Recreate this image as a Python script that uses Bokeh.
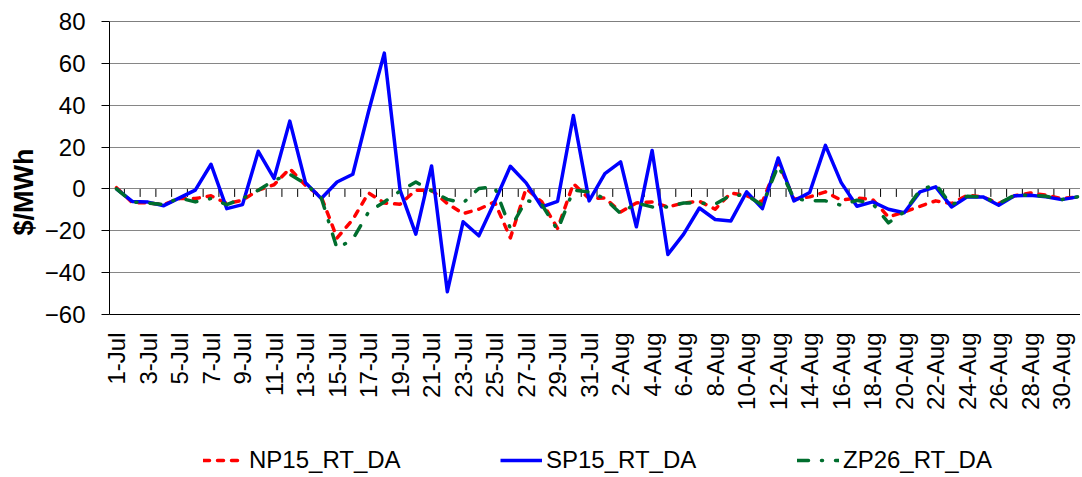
import numpy as np
from bokeh.plotting import figure
from bokeh.layouts import column
from bokeh.models import FixedTicker, Span, Title, Legend, LegendItem, Range1d, ColumnDataSource
from bokeh.embed import file_html
from bokeh.resources import INLINE

# ---- data ----
dates = [f"{d}-Jul" for d in range(1, 32)] + [f"{d}-Aug" for d in range(1, 32)]

np15 = [0.6, -6.5, -6.7, -7.5, -4.6, -4.6, -3.3, -7.0, -5.4, -0.6,
        2.0, 9.7, 1.7, -3.8, -23.4, -14.6, -1.9, -6.7, -7.3, -0.6,
        -0.6, -7.0, -11.8, -9.7, -6.2, -23.4, 0.2, -6.2, -18.9, 2.5, -4.6,
        -4.3, -11.0, -6.7, -6.2, -8.6, -6.7, -5.9, -9.7, -1.9, -3.3,
        -6.2, 12.9, -4.9, -3.8, -1.4, -5.4, -4.3, -5.1, -13.4, -11.0,
        -8.3, -5.7, -7.0, -3.0, -3.8, -7.0, -3.3, -1.9, -3.0, -4.6, -3.8]

sp15 = [0.0, -6.0, -6.3, -8.0, -4.3, -0.6, 11.8, -9.4, -7.5, 18.0,
        5.0, 32.4, 2.9, -4.6, 3.3, 7.0, 37.0, 64.9, -0.6, -21.6,
        11.0, -49.1, -15.7, -22.4, -6.2, 10.8, 2.9, -8.6, -5.9, 35.1, -5.7,
        7.3, 12.9, -18.1, 18.4, -31.3, -21.6, -9.1, -14.6, -15.3, -1.4,
        -9.4, 14.8, -5.7, -1.7, 20.8, 3.0, -8.3, -6.2, -9.7, -11.4,
        -1.4, 1.0, -8.6, -3.8, -3.8, -7.8, -3.3, -3.0, -3.8, -5.1, -3.8]

zp26 = [0.0, -6.2, -6.7, -7.5, -4.3, -6.2, -4.6, -7.5, -4.6, -0.6,
        4.1, 7.0, 2.5, -4.3, -28.5, -24.0, -11.0, -6.2, -1.0, 3.3,
        -1.0, -5.0, -6.7, 0.2, 1.0, -18.9, -5.4, -7.5, -19.7, -0.6, -1.4,
        -4.6, -11.8, -6.7, -8.6, -8.6, -6.7, -6.7, -7.3, -3.0, -3.0,
        -7.8, 11.3, -4.6, -5.7, -5.7, -7.8, -5.4, -7.0, -16.2, -11.0,
        -0.6, 2.2, -7.8, -3.5, -3.8, -7.0, -3.0, -3.0, -3.5, -5.1, -3.8]

series_names = ["NP15_RT_DA", "SP15_RT_DA", "ZP26_RT_DA"]
series_cols = ["np15", "sp15", "zp26"]
y_ticks = [-60, -40, -20, 0, 20, 40, 60, 80]

YMIN, YMAX = -60, 80
FONT = "Liberation Sans"
STYLES = [dict(line_color="#FF0000", line_width=3.5, line_dash="6 8", line_cap="round", line_join="round"),
          dict(line_color="#0000FF", line_width=3.5, line_join="round"),
          dict(line_color="#006E2E", line_width=3.5, line_dash="11 13 1 13", line_cap="round", line_join="round")]

x = list(range(len(dates)))
src = ColumnDataSource(dict(x=x, np15=np15, sp15=sp15, zp26=zp26))
XR = (-0.444, len(dates) - 1 + 0.19)

p = figure(width=1080, height=440, output_backend="svg", toolbar_location=None,
           x_range=Range1d(*XR), y_range=Range1d(YMIN, YMAX),
           min_border_left=109, min_border_top=21, min_border_bottom=126, min_border_right=0)
p.outline_line_color = None
p.background_fill_color = "white"
p.border_fill_color = "white"

# grid
p.xgrid.visible = False
p.ygrid.grid_line_color = "#868686"
p.ygrid.grid_line_width = 1

# y axis
p.yaxis.ticker = FixedTicker(ticks=y_ticks)
p.yaxis.major_label_text_font = FONT
p.yaxis.major_label_text_font_size = "24px"
p.yaxis.major_label_text_color = "black"
p.yaxis.major_tick_out = 8
p.yaxis.major_tick_in = 0
p.yaxis.minor_tick_line_color = None
p.yaxis.axis_line_color = "black"
p.yaxis.major_tick_line_color = "black"
p.yaxis.major_label_standoff = 16

# x axis (labels at bottom)
even = [i for i in x if i % 2 == 0]
p.xaxis.ticker = FixedTicker(ticks=even)
p.xaxis.major_label_overrides = {i: dates[i] for i in even}
p.xaxis.major_label_orientation = np.pi / 2
p.xaxis.major_label_text_font = FONT
p.xaxis.major_label_text_font_size = "24px"
p.xaxis.major_label_text_color = "black"
p.xaxis.major_tick_line_color = None
p.xaxis.major_tick_out = 0
p.xaxis.major_tick_in = 0
p.xaxis.minor_tick_line_color = None
p.xaxis.axis_line_color = "black"
p.xaxis.major_label_standoff = 18

# top border
p.add_layout(Span(location=YMAX, dimension="width", line_color="black", line_width=1))

# category tick marks on the zero axis
frame_h = 293.0
tick_len = 8 * (YMAX - YMIN) / frame_h
bounds = [i - 0.5 for i in range(len(dates) + 1)]
p.segment(x0=bounds, y0=[0] * len(bounds), x1=bounds, y1=[-tick_len] * len(bounds),
          line_color="black", line_width=1)

for col, st in zip(series_cols, STYLES):
    p.line("x", col, source=src, **st)

ytitle = Title(text="$/MWh", align="left", offset=79,
               text_font=FONT, text_font_style="bold", text_font_size="27px",
               text_color="black", standoff=6)
p.add_layout(ytitle, "left")

# ---- legend strip below the chart (same series, y range far away so only the legend shows) ----
lg = figure(width=1080, height=36, output_backend="svg", toolbar_location=None,
            x_range=Range1d(*XR), y_range=Range1d(1000, 1001), min_border=0)
lg.axis.visible = False
lg.grid.visible = False
lg.outline_line_color = None
lg.background_fill_color = "white"
lg.border_fill_color = "white"
rs = [lg.line("x", col, source=src, **st) for col, st in zip(series_cols, STYLES)]
legend = Legend(items=[LegendItem(label=n, renderers=[r]) for n, r in zip(series_names, rs)],
                location=(94, 2), orientation="horizontal",
                glyph_width=42, glyph_height=24, label_height=24, label_width=251,
                label_standoff=4, spacing=0, padding=0, margin=0,
                border_line_color=None, background_fill_alpha=0,
                label_text_font=FONT, label_text_font_size="24px", label_text_color="black")
lg.add_layout(legend)

layout = column(p, lg, spacing=0)
open("out.html", "w").write(file_html(layout, INLINE))
